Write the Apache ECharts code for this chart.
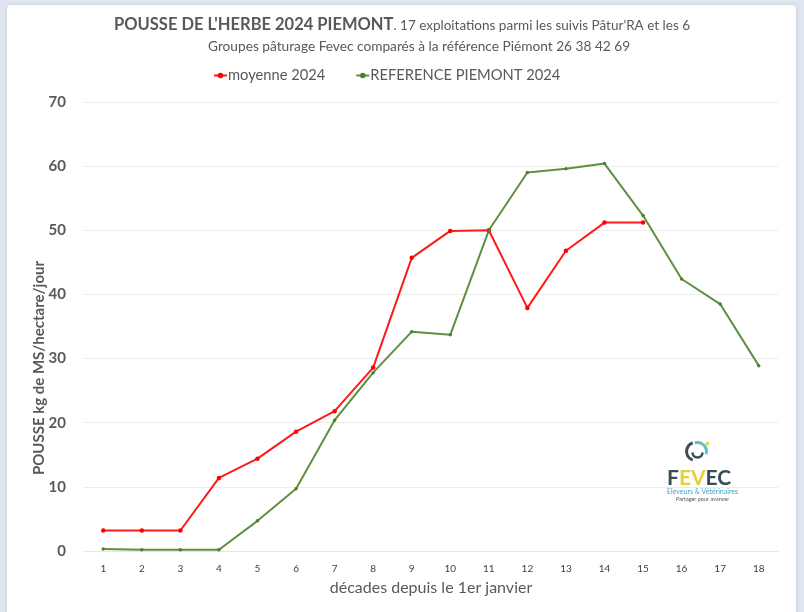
<!DOCTYPE html>
<html><head><meta charset="utf-8">
<script src="https://cdn.jsdelivr.net/npm/echarts@6/dist/echarts.min.js"></script>
<style>html,body{margin:0;padding:0;background:#dfe6ef;}#c{width:804px;height:612px;}</style>
</head><body><div id="c"></div>
<script>
const categories = ['1','2','3','4','5','6','7','8','9','10','11','12','13','14','15','16','17','18'];
const moyenne2024 = [3.2,3.2,3.2,11.4,14.4,18.6,21.8,28.6,45.7,49.9,50.0,37.9,46.8,51.2,51.2,null,null,null];
const reference2024 = [0.3,0.2,0.2,0.2,4.7,9.7,20.4,27.8,34.2,33.7,50.0,59.0,59.6,60.4,52.3,42.4,38.5,28.9];
const yTicks = [0,10,20,30,40,50,60,70];

const chart = echarts.init(document.getElementById('c'));
const F = 'Lato, "Open Sans", sans-serif';
chart.setOption({
  backgroundColor: '#dfe6ef',
  animation: false,
  graphic: [
    {type:'rect', shape:{x:7,y:5,width:789,height:620,r:4}, style:{fill:'#ffffff', shadowBlur:4, shadowColor:'rgba(0,0,0,0.12)'}, z:-10},
    {type:'text', x:39, y:368, rotation:Math.PI/2, style:{text:'POUSSE kg de MS/hectare/jour', fill:'#595959', fontSize:15, fontWeight:'bold', fontFamily:F, align:'center', verticalAlign:'middle'}},
    {type:'group', left:684, top:440, children:[
      {type:'arc', shape:{cx:12,cy:12,r:9,startAngle:Math.PI*0.6,endAngle:Math.PI*1.4}, style:{stroke:'#3a4d57',lineWidth:3,fill:null}},
      {type:'arc', shape:{cx:14,cy:12,r:9,startAngle:-Math.PI*0.6,endAngle:Math.PI*0.1}, style:{stroke:'#5fbfc7',lineWidth:3,fill:null}},
      {type:'arc', shape:{cx:14,cy:13,r:5,startAngle:0,endAngle:Math.PI}, style:{stroke:'#3a4d57',lineWidth:2.5,fill:null}},
      {type:'circle', shape:{cx:24,cy:4,r:2}, style:{fill:'#e8d44d'}}
    ]},
    {type:'text', left:667, top:468, style:{text:'{a|F}{b|EV}{a|EC}', rich:{a:{fill:'#3a4d57',fontSize:21,fontWeight:'bold',fontFamily:F},b:{fill:'#e6cf3c',fontSize:21,fontWeight:'bold',fontFamily:F}}}},
    {type:'text', left:667, top:488, style:{text:'Éleveurs & Vétérinaires', fill:'#3aa6c7', fontSize:7, fontFamily:F}},
    {type:'text', left:676, top:496, style:{text:'Partager pour avancer', fill:'#555', fontSize:5.5, fontFamily:F}}
  ],
  title: [{
    text: '{b|POUSSE DE L\'HERBE 2024 PIEMONT}{s|. 17 exploitations parmi les suivis Pâtur\'RA et les 6}',
    left: 'center', top: 11,
    textStyle: {rich: {
      b: {fontSize: 16.5, fontWeight: 'bold', color: '#595959', fontFamily: F},
      s: {fontSize: 13.5, fontWeight: 'normal', color: '#595959', fontFamily: F, padding:[3,0,0,0]}
    }}
  },{
    text: 'Groupes pâturage Fevec comparés à la référence Piémont 26 38 42 69',
    left: 203, top: 35,
    textStyle: {fontSize: 13.7, fontWeight: 'normal', color: '#595959', fontFamily: F}
  }],
  legend: {
    top: 63, left: 208, itemGap: 30, itemWidth: 13, itemHeight: 7,
    textStyle: {fontSize: 14.7, color: '#595959', fontFamily: F, padding:[0,0,0,-4]},
    data: ['moyenne 2024', 'REFERENCE PIEMONT 2024']
  },
  grid: {left: 84, right: 26, top: 102, bottom: 61},
  xAxis: {
    type: 'category', data: categories, boundaryGap: true,
    name: 'décades depuis le 1er janvier', nameLocation: 'middle', nameGap: 29,
    nameTextStyle: {fontSize: 16, color: '#595959', fontFamily: F},
    axisLine: {lineStyle: {color: '#e6e6e6'}}, axisTick: {show: false},
    axisLabel: {fontSize: 10, color: '#404040', fontFamily: F, margin: 13}
  },
  yAxis: {
    type: 'value', min: 0, max: 70, interval: 10,
    axisLabel: {fontSize: 15, fontWeight: 'bold', color: '#595959', fontFamily: F, margin: 18,
      formatter: v => yTicks.includes(v) ? String(v) : ''},
    splitLine: {lineStyle: {color: '#ececec'}},
    axisLine: {show: false}, axisTick: {show: false}
  },
  series: [{
    name: 'moyenne 2024', type: 'line', data: moyenne2024,
    color: '#ff0000', symbol: 'circle', symbolSize: 4.5,
    lineStyle: {width: 2, color: '#ff1a1a'}, itemStyle: {color: '#ff0000'}
  },{
    name: 'REFERENCE PIEMONT 2024', type: 'line', data: reference2024,
    color: '#5b8c3a', symbol: 'circle', symbolSize: 3.5,
    lineStyle: {width: 2, color: '#5f8f41'}, itemStyle: {color: '#4f7f33'}
  }]
});
</script></body></html>
